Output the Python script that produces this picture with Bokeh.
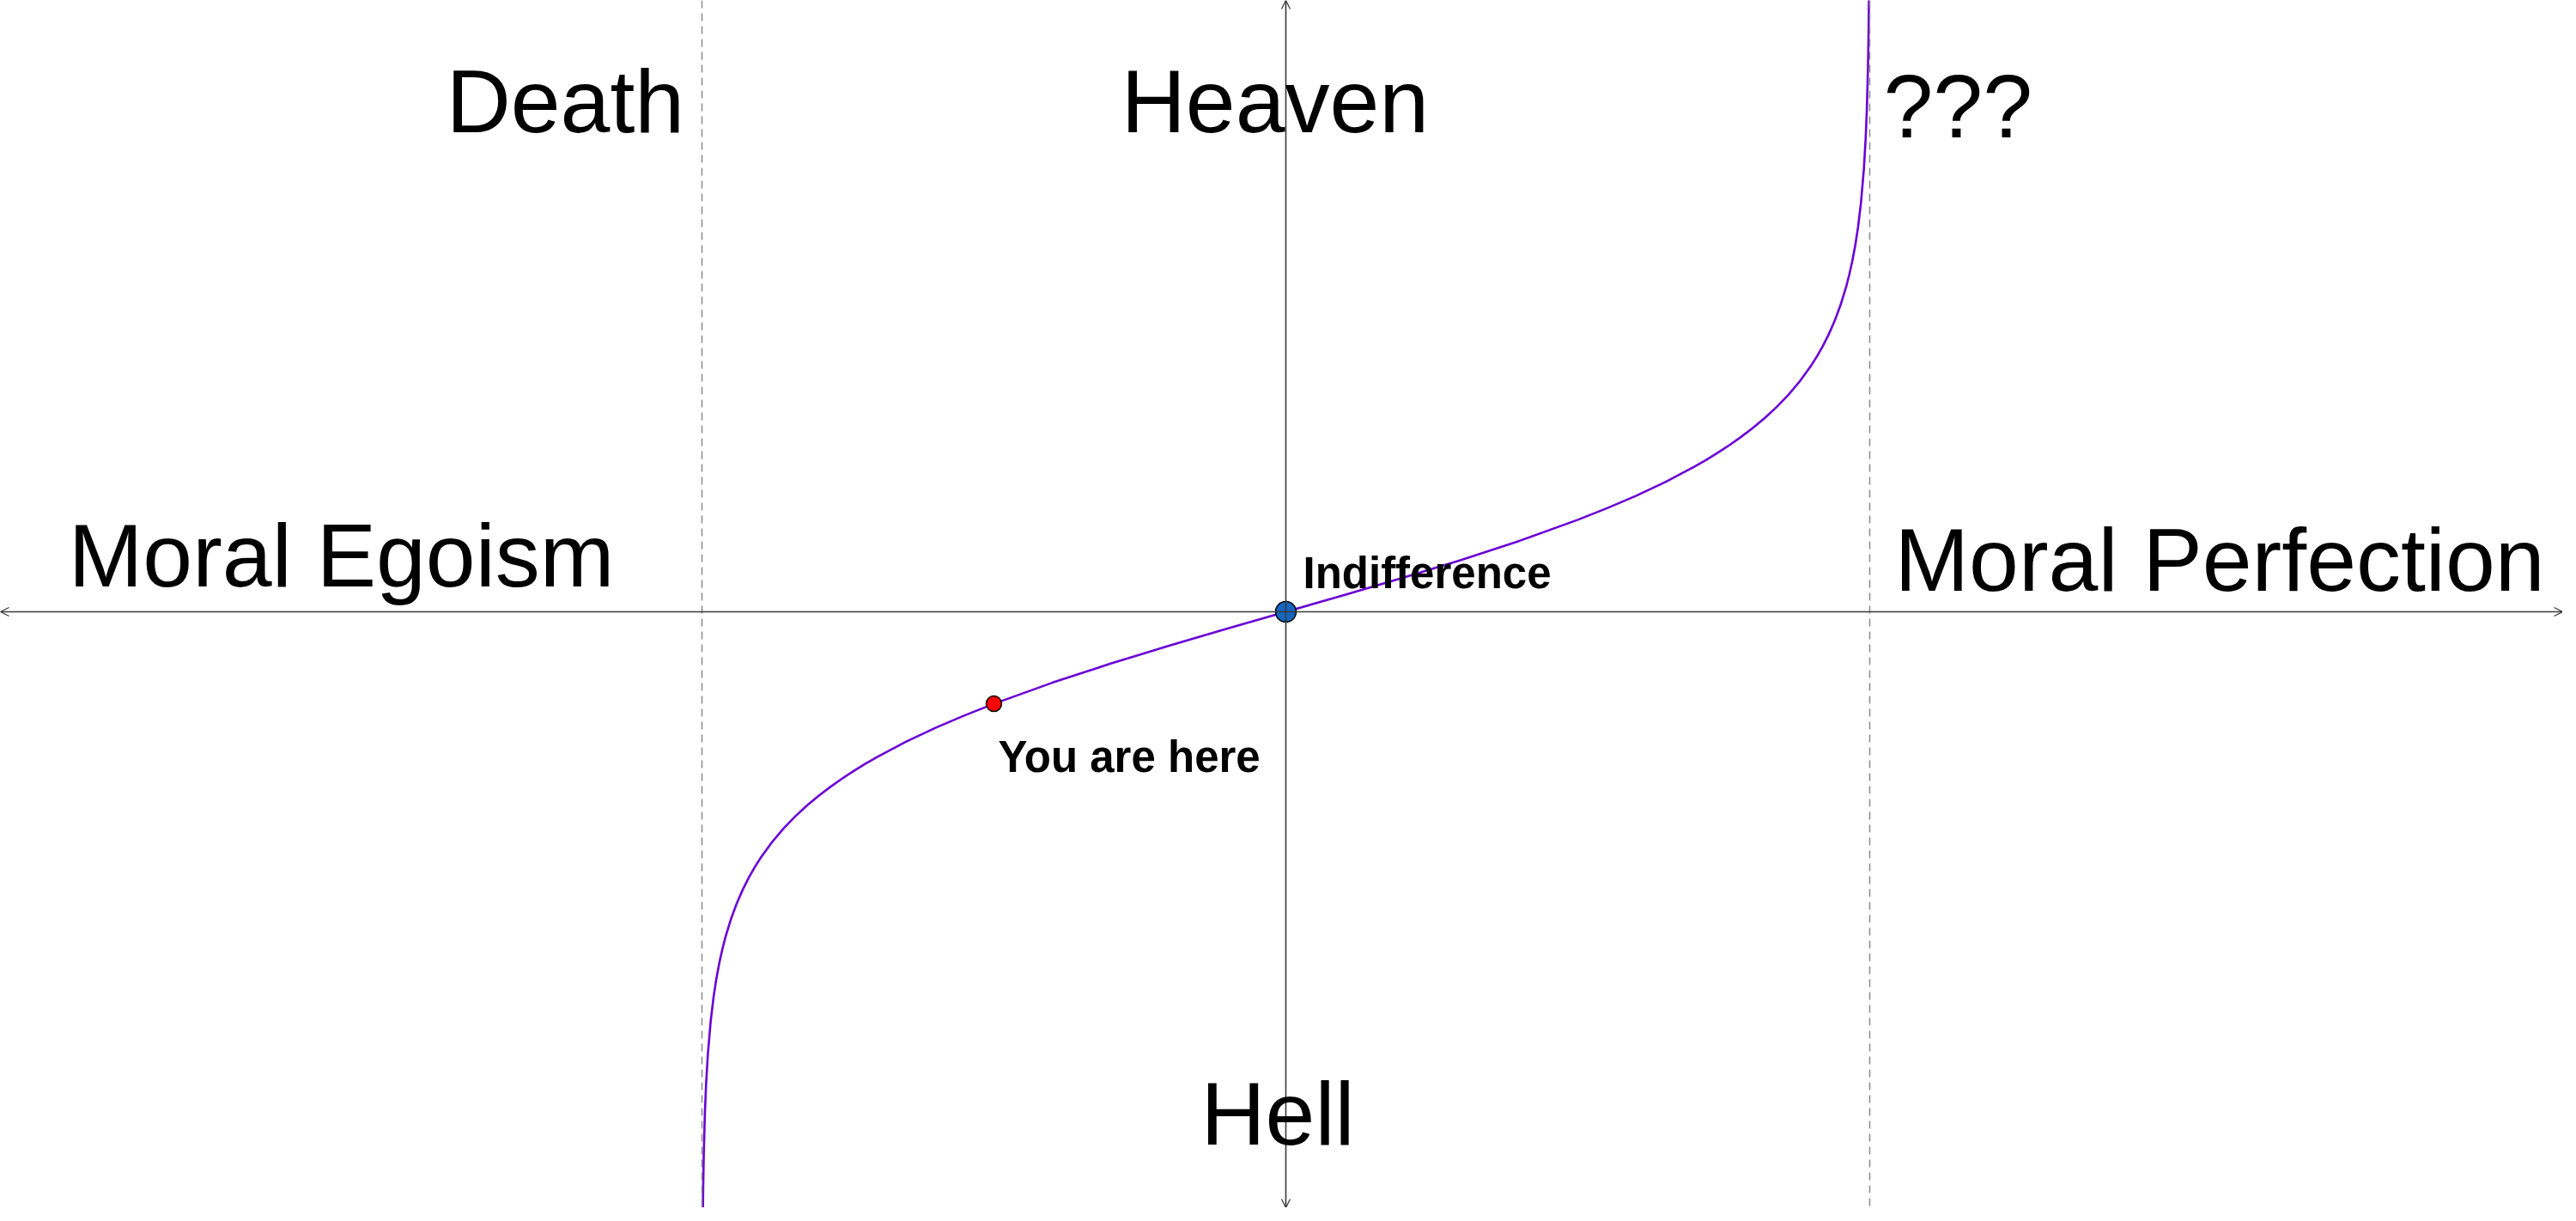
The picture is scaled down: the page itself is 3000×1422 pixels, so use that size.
from bokeh.plotting import figure
from bokeh.models import Range1d, Arrow, OpenHead, Span, Label
from bokeh.embed import file_html
from bokeh.resources import INLINE

# ---- data (y = artanh(x), asymptotes at x = ±1) ----
curve_x = [-0.9995, -0.999, -0.998, -0.997, -0.995, -0.993, -0.99, -0.985, -0.98, -0.975,
           -0.97, -0.965, -0.96, -0.95, -0.94, -0.93, -0.92, -0.91, -0.9, -0.88, -0.86,
           -0.84, -0.82, -0.8, -0.78, -0.76, -0.74, -0.72, -0.7, -0.65, -0.6, -0.55, -0.5,
           -0.4, -0.3, -0.2, -0.1, 0.0, 0.1, 0.2, 0.3, 0.4, 0.5, 0.55, 0.6, 0.65, 0.7, 0.72,
           0.74, 0.76, 0.78, 0.8, 0.82, 0.84, 0.86, 0.88, 0.9, 0.91, 0.92, 0.93, 0.94, 0.95,
           0.96, 0.965, 0.97, 0.975, 0.98, 0.985, 0.99, 0.993, 0.995, 0.997, 0.998, 0.999, 0.9995]
curve_y = [-4.1469, -3.8002, -3.4534, -3.2504, -2.9945, -2.8257, -2.6467, -2.4427, -2.2976, -2.1847,
           -2.0923, -2.0139, -1.9459, -1.8318, -1.7380, -1.6584, -1.5890, -1.5275, -1.4722, -1.3758, -1.2933,
           -1.2212, -1.1568, -1.0986, -1.0454, -0.9962, -0.9505, -0.9076, -0.8673, -0.7753, -0.6931, -0.6184, -0.5493,
           -0.4236, -0.3095, -0.2027, -0.1003, 0.0, 0.1003, 0.2027, 0.3095, 0.4236, 0.5493, 0.6184, 0.6931, 0.7753, 0.8673, 0.9076,
           0.9505, 0.9962, 1.0454, 1.0986, 1.1568, 1.2212, 1.2933, 1.3758, 1.4722, 1.5275, 1.5890, 1.6584, 1.7380, 1.8318,
           1.9459, 2.0139, 2.0923, 2.1847, 2.2976, 2.4427, 2.6467, 2.8257, 2.9945, 3.2504, 3.4534, 3.8002, 4.1469]

asymptotes = [-1.0, 1.0]

point_names = ["Indifference", "You are here"]
point_x = [0.0, -0.5]
point_y = [0.0, -0.5493]

X_MIN, X_MAX = -2.2015, 2.1868
Y_MIN, Y_MAX = -3.559, 3.6513

p = figure(width=2984, height=1406, x_range=Range1d(X_MIN, X_MAX), y_range=Range1d(Y_MIN, Y_MAX),
           output_backend="svg", toolbar_location=None, min_border=0)
p.axis.visible = False
p.grid.visible = False
p.outline_line_color = None
p.background_fill_color = "white"
p.border_fill_color = "white"

# dashed asymptotes
for a in asymptotes:
    p.add_layout(Span(location=a, dimension="height", line_color="#8a8a8a",
                      line_width=1.5, line_dash="9 6"))

# axes with arrow heads at both ends
AX = "#3a3a3a"
p.add_layout(Arrow(start=OpenHead(size=10, line_color=AX, line_width=1.3),
                   end=OpenHead(size=10, line_color=AX, line_width=1.3),
                   x_start=X_MIN, y_start=0, x_end=X_MAX, y_end=0,
                   line_color=AX, line_width=1.6))
p.add_layout(Arrow(start=OpenHead(size=10, line_color=AX, line_width=1.3),
                   end=OpenHead(size=10, line_color=AX, line_width=1.3),
                   x_start=0, y_start=Y_MIN, x_end=0, y_end=Y_MAX,
                   line_color=AX, line_width=1.6))

# curve
p.line(curve_x, curve_y, line_color="#6a00d6", line_width=2.6)

# points
p.scatter([point_x[0]], [point_y[0]], size=24, fill_color="#1565c0", line_color="black", line_width=1.5)
p.scatter([point_x[1]], [point_y[1]], size=18, fill_color="#ff0000", line_color="black", line_width=1.5)

FONT = "Liberation Sans"
big = [("Death", -1.438, 3.049), ("Heaven", -0.282, 3.049), ("???", 1.0235, 3.017),
       ("Moral Egoism", -2.085, 0.3345), ("Moral Perfection", 1.0426, 0.3088), ("Hell", -0.1456, -2.995)]
for t, x, y in big:
    p.add_layout(Label(x=x, y=y, text=t, text_font=FONT, text_font_size="104px",
                       text_color="black", text_baseline="alphabetic", text_align="left"))

small = [(point_names[0], 0.0294, 0.233), (point_names[1], -0.4926, -0.866)]
for t, x, y in small:
    p.add_layout(Label(x=x, y=y, text=t, text_font=FONT, text_font_size="51px",
                       text_font_style="bold", text_color="black",
                       text_baseline="alphabetic", text_align="left"))

open("out.html", "w").write(file_html(p, INLINE))
